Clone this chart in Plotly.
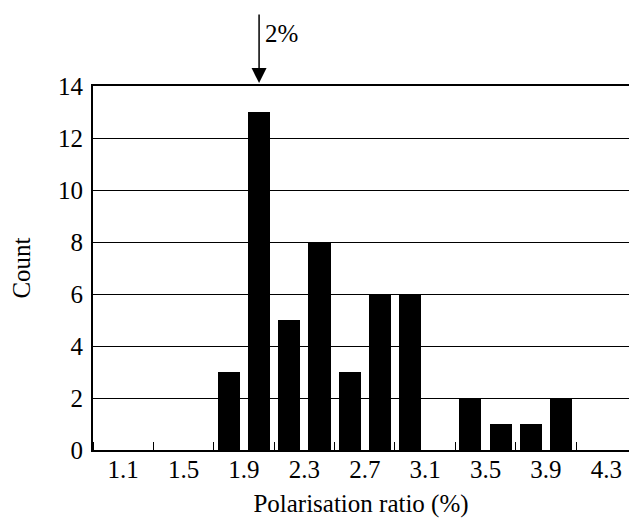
import plotly.graph_objects as go

# Data
bin_centers = [1.2, 1.4, 1.6, 1.8, 2.0, 2.2, 2.4, 2.6, 2.8, 3.0, 3.2, 3.4, 3.6, 3.8, 4.0, 4.2]
counts = [0, 0, 0, 3, 13, 5, 8, 3, 6, 6, 0, 2, 1, 1, 2, 0]
tick_labels = ["1.1", "1.5", "1.9", "2.3", "2.7", "3.1", "3.5", "3.9", "4.3"]
tick_values = [float(t) for t in tick_labels]
marker_value = 2.0
marker_label = "2%"

FONT = "Times New Roman"
FS = 25

fig = go.Figure()
fig.add_trace(go.Bar(
    x=bin_centers, y=counts, width=0.146,
    marker=dict(color="black", line=dict(width=0)),
    showlegend=False,
))

fig.update_layout(
    width=629, height=519,
    margin=dict(l=93, r=0, t=86, b=69),
    paper_bgcolor="white", plot_bgcolor="white",
    font=dict(family=FONT, size=FS, color="black"),
    bargap=0,
)

fig.update_xaxes(
    range=[0.9, 4.45],
    tickmode="array", tickvals=tick_values, ticktext=tick_labels,
    ticks="", showgrid=False, zeroline=False,
    showline=True, linecolor="black", linewidth=2, mirror=True,
    minor=dict(tickmode="linear", tick0=1.3, dtick=0.4, ticks="inside",
               ticklen=8, tickwidth=1, tickcolor="black", showgrid=False),
    title=dict(text="Polarisation ratio (%)", font=dict(family=FONT, size=FS), standoff=12),
    tickfont=dict(family=FONT, size=FS),
    ticklabelstandoff=-4,
    automargin=False,
)
fig.update_yaxes(
    range=[0, 14], dtick=2, tick0=0,
    ticks="inside", ticklen=8, tickwidth=1, tickcolor="black",
    showgrid=True, gridcolor="black", gridwidth=1,
    zeroline=False,
    showline=True, linecolor="black", linewidth=2,
    title=dict(text="Count", font=dict(family=FONT, size=FS), standoff=20),
    tickfont=dict(family=FONT, size=FS),
    ticklabelstandoff=3,
    automargin=False,
)

# Arrow pointing to 2%
fig.add_annotation(
    x=marker_value, y=1.008, xref="x", yref="paper",
    ax=0, ay=-70, axref="pixel", ayref="pixel",
    text="", showarrow=True, arrowhead=2, arrowsize=2, arrowwidth=1.5,
    arrowcolor="black",
)
fig.add_annotation(
    x=marker_value, y=1.145, xref="x", yref="paper",
    xshift=4, xanchor="left", yanchor="middle",
    text=marker_label, showarrow=False, font=dict(family=FONT, size=FS),
)

fig.write_html("out.html")
